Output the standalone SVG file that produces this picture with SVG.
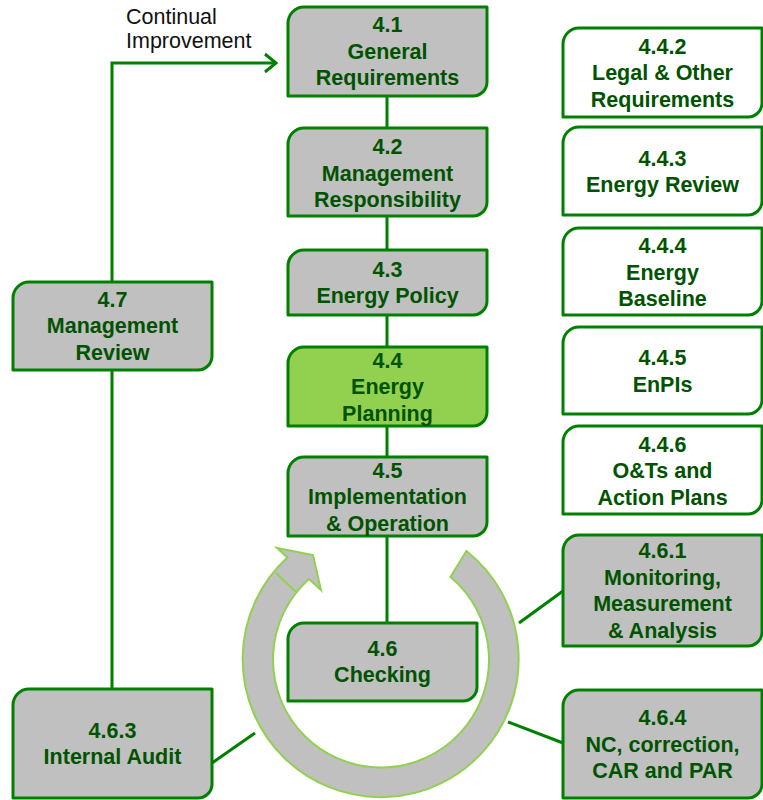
<svg xmlns="http://www.w3.org/2000/svg" width="763" height="800" viewBox="0 0 763 800">
<style>
.box{fill:#C0C0C0;stroke:#008000;stroke-width:3;stroke-linejoin:round}
.white{fill:#FFFFFF}
.hl{fill:#92D050}
.t{font-family:"Liberation Sans",Arial,sans-serif;font-weight:bold;font-size:21.5px;fill:#005300;text-anchor:middle}
.plain{font-family:"Liberation Sans",Arial,sans-serif;font-size:21.5px;fill:#111111}
.con{stroke:#008000;stroke-width:3;fill:none}
.ring{fill:#C0C0C0;stroke:#92D050;stroke-width:2;stroke-linejoin:miter}
</style>
<rect width="763" height="800" fill="#FFFFFF"/>

<g id="cycle">
<path class="ring" d="M466.4,551 A138,138 0 1 1 287.3,557.5 L277,548 L313,555 L321,590 L309,579 A108,108 0 1 0 450.6,576.9 Z"/>
<line x1="276" y1="573" x2="296" y2="592" stroke="#92D050" stroke-width="2"/>
</g>

<g id="connectors">
<line class="con" x1="387" y1="96" x2="387" y2="623"/>
<polyline class="con" points="112,282 112,63 275,63" stroke-linejoin="miter"/>
<polyline class="con" points="265,54 276,63 265,72"/>
<line class="con" x1="112" y1="370" x2="112" y2="689"/>
<line class="con" x1="563" y1="591" x2="519" y2="623"/>
<line class="con" x1="563" y1="743" x2="508" y2="722"/>
<line class="con" x1="212" y1="763" x2="255" y2="733"/>
</g>

<text class="plain" x="126" y="24">Continual</text>
<text class="plain" x="126" y="48">Improvement</text>

<g id="n41">
<path class="box" d="M288,23 A16,16 0 0 1 304,7 L487,7 L487,82 A14,14 0 0 1 473,96 L288,96 Z"/>
<text class="t" x="387.5" y="32">4.1</text>
<text class="t" x="387.5" y="58.5">General</text>
<text class="t" x="387.5" y="85">Requirements</text>
</g>

<g id="n42">
<path class="box" d="M288,144 A16,16 0 0 1 304,128 L487,128 L487,202 A14,14 0 0 1 473,216 L288,216 Z"/>
<text class="t" x="387.5" y="154">4.2</text>
<text class="t" x="387.5" y="180.5">Management</text>
<text class="t" x="387.5" y="207">Responsibility</text>
</g>

<g id="n43">
<path class="box" d="M288,266 A16,16 0 0 1 304,250 L487,250 L487,301 A14,14 0 0 1 473,315 L288,315 Z"/>
<text class="t" x="387.5" y="276.5">4.3</text>
<text class="t" x="387.5" y="303">Energy Policy</text>
</g>

<g id="n44">
<path class="box hl" d="M288,363 A16,16 0 0 1 304,347 L487,347 L487,412 A14,14 0 0 1 473,426 L288,426 Z"/>
<text class="t" x="387.5" y="367.5">4.4</text>
<text class="t" x="387.5" y="394">Energy</text>
<text class="t" x="387.5" y="420.5">Planning</text>
</g>

<g id="n45">
<path class="box" d="M288,473 A16,16 0 0 1 304,457 L487,457 L487,522 A14,14 0 0 1 473,536 L288,536 Z"/>
<text class="t" x="387.5" y="477.5">4.5</text>
<text class="t" x="387.5" y="504">Implementation</text>
<text class="t" x="387.5" y="530.5">&amp; Operation</text>
</g>

<g id="n46">
<path class="box" d="M288,639 A16,16 0 0 1 304,623 L477,623 L477,687 A14,14 0 0 1 463,701 L288,701 Z"/>
<text class="t" x="382.5" y="655.5">4.6</text>
<text class="t" x="382.5" y="682">Checking</text>
</g>

<g id="n47">
<path class="box" d="M13,298 A16,16 0 0 1 29,282 L212,282 L212,356 A14,14 0 0 1 198,370 L13,370 Z"/>
<text class="t" x="112.5" y="306.5">4.7</text>
<text class="t" x="112.5" y="333">Management</text>
<text class="t" x="112.5" y="359.5">Review</text>
</g>

<g id="n463">
<path class="box" d="M13,705 A16,16 0 0 1 29,689 L212,689 L212,784 A14,14 0 0 1 198,798 L13,798 Z"/>
<text class="t" x="112.5" y="737.5">4.6.3</text>
<text class="t" x="112.5" y="764">Internal Audit</text>
</g>

<g id="n442">
<path class="box white" d="M563,44 A16,16 0 0 1 579,28 L762,28 L762,103 A14,14 0 0 1 748,117 L563,117 Z"/>
<text class="t" x="662.5" y="53.5">4.4.2</text>
<text class="t" x="662.5" y="80">Legal &amp; Other</text>
<text class="t" x="662.5" y="106.5">Requirements</text>
</g>

<g id="n443">
<path class="box white" d="M563,143 A16,16 0 0 1 579,127 L762,127 L762,201 A14,14 0 0 1 748,215 L563,215 Z"/>
<text class="t" x="662.5" y="165.5">4.4.3</text>
<text class="t" x="662.5" y="192">Energy Review</text>
</g>

<g id="n444">
<path class="box white" d="M563,244 A16,16 0 0 1 579,228 L762,228 L762,301 A14,14 0 0 1 748,315 L563,315 Z"/>
<text class="t" x="662.5" y="253">4.4.4</text>
<text class="t" x="662.5" y="279.5">Energy</text>
<text class="t" x="662.5" y="306">Baseline</text>
</g>

<g id="n445">
<path class="box white" d="M563,343 A16,16 0 0 1 579,327 L762,327 L762,400 A14,14 0 0 1 748,414 L563,414 Z"/>
<text class="t" x="662.5" y="365">4.4.5</text>
<text class="t" x="662.5" y="391.5">EnPIs</text>
</g>

<g id="n446">
<path class="box white" d="M563,442 A16,16 0 0 1 579,426 L762,426 L762,500 A14,14 0 0 1 748,514 L563,514 Z"/>
<text class="t" x="662.5" y="451.5">4.4.6</text>
<text class="t" x="662.5" y="478">O&amp;Ts and</text>
<text class="t" x="662.5" y="504.5">Action Plans</text>
</g>

<g id="n461">
<path class="box" d="M563,551 A16,16 0 0 1 579,535 L762,535 L762,632 A14,14 0 0 1 748,646 L563,646 Z"/>
<text class="t" x="662.5" y="557.5">4.6.1</text>
<text class="t" x="662.5" y="584.5">Monitoring,</text>
<text class="t" x="662.5" y="611">Measurement</text>
<text class="t" x="662.5" y="637.5">&amp; Analysis</text>
</g>

<g id="n464">
<path class="box" d="M563,706 A16,16 0 0 1 579,690 L762,690 L762,784 A14,14 0 0 1 748,798 L563,798 Z"/>
<text class="t" x="662.5" y="725">4.6.4</text>
<text class="t" x="662.5" y="751.5">NC, correction,</text>
<text class="t" x="662.5" y="778">CAR and PAR</text>
</g>
</svg>
